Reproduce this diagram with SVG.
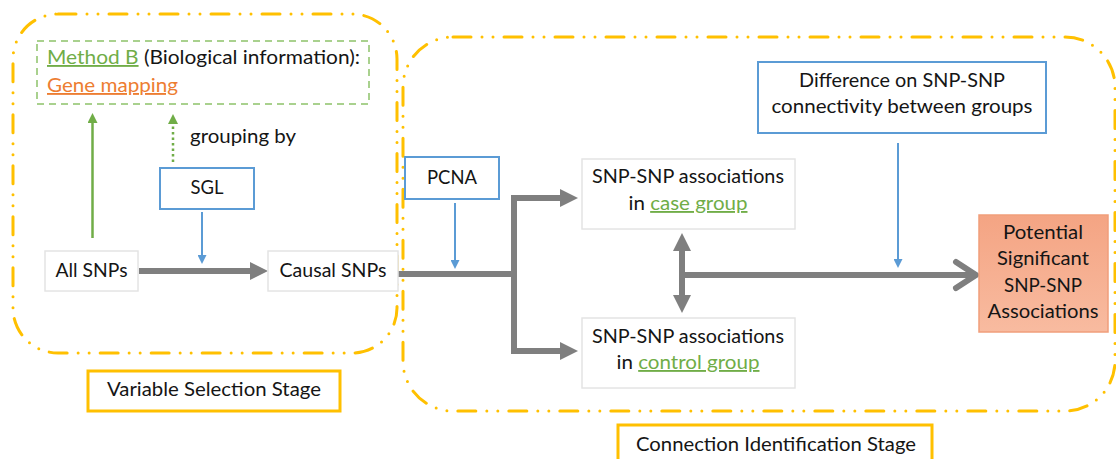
<svg xmlns="http://www.w3.org/2000/svg" width="1116" height="459" viewBox="0 0 1116 459">
  <defs>
    <style>
      text { font-family: Lato, "Open Sans", "Liberation Sans", sans-serif; font-size: 18.5px; fill: #151515; }
      .mid { text-anchor: middle; }
      .stage { fill: none; stroke: #FFC000; stroke-width: 3; stroke-linecap: round; stroke-dasharray: 18 11 0 11 0 11; }
      .label-box { fill: #ffffff; stroke: #FFC000; stroke-width: 3; }
      .plain { fill: #ffffff; stroke: #E4E4E4; stroke-width: 1.5; }
      .tool { fill: #ffffff; stroke: #5B9BD5; stroke-width: 2; }
      .method { fill: none; stroke: #A9D18E; stroke-width: 2; stroke-dasharray: 7 5; }
      .flow { fill: none; stroke: #7F7F7F; stroke-width: 6; }
      .feed { fill: none; stroke: #5B9BD5; stroke-width: 2; }
      .green { fill: #70AD47; }
      .orange { fill: #ED7D31; }
    </style>
    <marker id="head-gray" markerUnits="userSpaceOnUse" markerWidth="18" markerHeight="18" viewBox="0 0 18 18" refX="0" refY="9" orient="auto">
      <path d="M0,0 L18,9 L0,18 Z" fill="#7F7F7F"/>
    </marker>
    <marker id="head-blue" markerUnits="userSpaceOnUse" markerWidth="9" markerHeight="9" viewBox="0 0 9 9" refX="0" refY="4.5" orient="auto">
      <path d="M0,0 L9,4.5 L0,9 Z" fill="#5B9BD5"/>
    </marker>
    <marker id="head-green" markerUnits="userSpaceOnUse" markerWidth="10" markerHeight="10" viewBox="0 0 10 10" refX="0" refY="5" orient="auto">
      <path d="M0,0 L10,5 L0,10 Z" fill="#70AD47"/>
    </marker>
    <linearGradient id="result-fill" x1="0" y1="0" x2="0" y2="1">
      <stop offset="0" stop-color="#F4A483"/>
      <stop offset="1" stop-color="#F8BBA0"/>
    </linearGradient>
  </defs>

  <!-- stage outlines -->
  <g id="stage-variable-selection">
    <rect class="stage" x="13" y="14" width="384" height="339" rx="45" ry="45"/>
  </g>
  <g id="stage-connection-identification">
    <rect class="stage" x="403" y="37" width="712" height="374" rx="50" ry="50"/>
  </g>

  <!-- connectors -->
  <g id="connectors">
    <!-- grouping information feeds -->
    <path d="M92.5,238 V123" stroke="#70AD47" stroke-width="2.5" fill="none" marker-end="url(#head-green)"/>
    <path d="M173,162 V124" stroke="#70AD47" stroke-width="2.5" stroke-dasharray="2.5 3" fill="none" marker-end="url(#head-green)"/>
    <!-- method feeds -->
    <path class="feed" d="M202,212 V255" marker-end="url(#head-blue)"/>
    <path class="feed" d="M455,203 V260" marker-end="url(#head-blue)"/>
    <path class="feed" d="M898,143 V259" marker-end="url(#head-blue)"/>
    <!-- main flow -->
    <path class="flow" d="M139,271 H250" marker-end="url(#head-gray)"/>
    <path class="flow" d="M398,274 H514"/>
    <path class="flow" d="M514,195 V354"/>
    <path class="flow" d="M511,198 H560" marker-end="url(#head-gray)"/>
    <path class="flow" d="M511,351 H560" marker-end="url(#head-gray)"/>
    <!-- comparison between groups -->
    <path class="flow" d="M682,251 V295"/>
    <path d="M673,251 L682,233 L691,251 Z" fill="#7F7F7F"/>
    <path d="M673,295 L682,313 L691,295 Z" fill="#7F7F7F"/>
    <path class="flow" d="M682,275 H975"/>
    <path d="M956,262 L976,275 L956,288" fill="none" stroke="#7F7F7F" stroke-width="6" stroke-linecap="round" stroke-linejoin="round"/>
  </g>

  <g id="method-b">
    <rect class="method" x="37" y="41" width="332" height="63"/>
    <text x="47" y="64" textLength="313" lengthAdjust="spacingAndGlyphs"><tspan class="green" text-decoration="underline">Method B</tspan> (Biological information):</text>
    <text x="47" y="92" textLength="131" lengthAdjust="spacingAndGlyphs"><tspan class="orange" text-decoration="underline">Gene mapping</tspan></text>
  </g>

  <g id="grouping-label">
    <text x="190" y="143" textLength="106" lengthAdjust="spacingAndGlyphs">grouping by</text>
  </g>

  <g id="sgl">
    <rect class="tool" x="160" y="168" width="94" height="41"/>
    <text class="mid" x="207" y="194" textLength="33" lengthAdjust="spacingAndGlyphs">SGL</text>
  </g>

  <g id="all-snps">
    <rect class="plain" x="45" y="251" width="93" height="40"/>
    <text class="mid" x="91.5" y="277" textLength="72" lengthAdjust="spacingAndGlyphs">All SNPs</text>
  </g>

  <g id="causal-snps">
    <rect class="plain" x="268" y="251" width="130" height="40"/>
    <text class="mid" x="333" y="277" textLength="107" lengthAdjust="spacingAndGlyphs">Causal SNPs</text>
  </g>

  <g id="variable-selection-stage">
    <rect class="label-box" x="88" y="371" width="252" height="40"/>
    <text class="mid" x="214" y="396" textLength="214" lengthAdjust="spacingAndGlyphs">Variable Selection Stage</text>
  </g>

  <g id="pcna">
    <rect class="tool" x="405" y="157" width="94" height="42"/>
    <text class="mid" x="452" y="184" textLength="50" lengthAdjust="spacingAndGlyphs">PCNA</text>
  </g>

  <g id="case-group">
    <rect class="plain" x="582" y="159" width="213" height="70"/>
    <text class="mid" x="688" y="183" textLength="192" lengthAdjust="spacingAndGlyphs">SNP-SNP associations</text>
    <text class="mid" x="688" y="210" textLength="119" lengthAdjust="spacingAndGlyphs">in <tspan class="green" text-decoration="underline">case group</tspan></text>
  </g>

  <g id="control-group">
    <rect class="plain" x="582" y="318" width="213" height="70"/>
    <text class="mid" x="688" y="343" textLength="192" lengthAdjust="spacingAndGlyphs">SNP-SNP associations</text>
    <text class="mid" x="688" y="369" textLength="143" lengthAdjust="spacingAndGlyphs">in <tspan class="green" text-decoration="underline">control group</tspan></text>
  </g>

  <g id="connectivity-difference">
    <rect class="tool" x="758" y="62" width="288" height="71"/>
    <text class="mid" x="902" y="87" textLength="206" lengthAdjust="spacingAndGlyphs">Difference on SNP-SNP</text>
    <text class="mid" x="902" y="113" textLength="261" lengthAdjust="spacingAndGlyphs">connectivity between groups</text>
  </g>

  <g id="significant-associations">
    <rect x="979" y="215" width="129" height="117" fill="url(#result-fill)" stroke="#F19E7B" stroke-width="1.5"/>
    <text class="mid" x="1043" y="239" textLength="80" lengthAdjust="spacingAndGlyphs">Potential</text>
    <text class="mid" x="1043" y="265" textLength="92" lengthAdjust="spacingAndGlyphs">Significant</text>
    <text class="mid" x="1043" y="292" textLength="78" lengthAdjust="spacingAndGlyphs">SNP-SNP</text>
    <text class="mid" x="1043" y="318" textLength="111" lengthAdjust="spacingAndGlyphs">Associations</text>
  </g>

  <g id="connection-identification-stage">
    <rect class="label-box" x="618" y="425" width="314" height="42"/>
    <text class="mid" x="776" y="451" textLength="280" lengthAdjust="spacingAndGlyphs">Connection Identification Stage</text>
  </g>
</svg>
